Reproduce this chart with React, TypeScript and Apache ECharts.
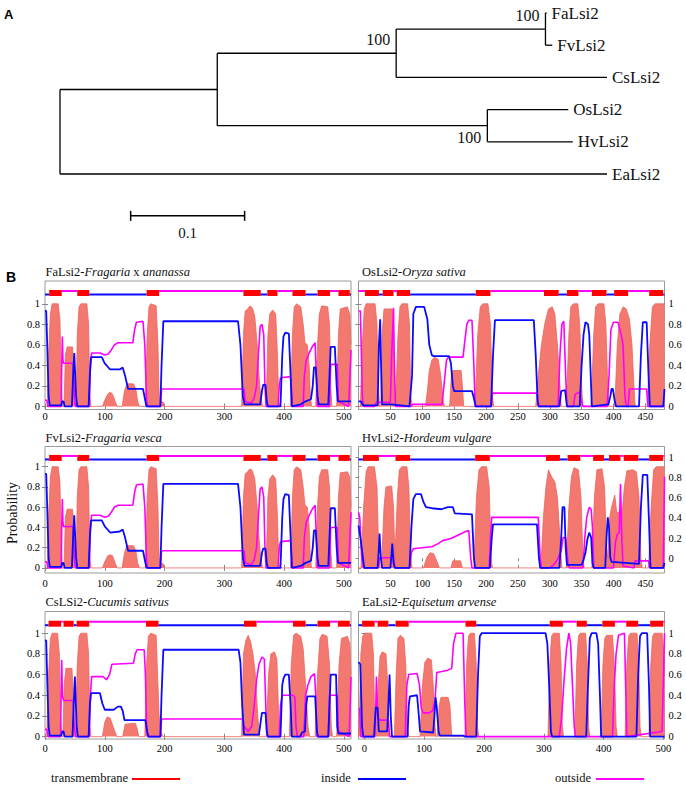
import React, { useEffect, useRef } from 'react';
import * as echarts from 'echarts';

type Pt = [number, number];
type Seg = [number, number, string];

const SERIF = 'Liberation Serif';
const SANS = 'Liberation Sans';

// ---------------- Panel A : phylogenetic tree ----------------
interface TNode { name?: string; len: number; support?: number; below?: boolean; children?: TNode[] }
const treeRoot: TNode = {
  len: 0,
  children: [
    {
      len: 0.138,
      children: [
        {
          len: 0.157, support: 100,
          children: [
            { len: 0.131, support: 100, children: [{ name: 'FaLsi2', len: 0.001 }, { name: 'FvLsi2', len: 0.006 }] },
            { name: 'CsLsi2', len: 0.185 },
          ],
        },
        { len: 0.237, support: 100, below: true, children: [{ name: 'OsLsi2', len: 0.071 }, { name: 'HvLsi2', len: 0.075 }] },
      ],
    },
    { name: 'EaLsi2', len: 0.48 },
  ],
};
const scaleBarStart = 0.062;
const scaleBarLength = 0.1;
const scaleBarRow = 6.3;
const scaleBarLabel = '0.1';

// ---------------- Panel B : topology predictions ----------------
const leftXTicks = [0, 100, 200, 300, 400, 500];
const rightXTicks = [50, 100, 150, 200, 250, 300, 350, 400, 450];
const eaXTicks = [0, 100, 200, 300, 400, 500];
const yTicks = [0, 0.2, 0.4, 0.6, 0.8, 1];

// FaLsi2
const faTm: Pt[] = [[0,0],[4,0],[6,0.5],[9,0.9],[12,1.0],[22,1.0],[25,0.85],[27,0.3],[29,0],[32,0],[34,0.5],[37,0.58],[46,0.58],[48,0.45],[50,0],[52,0],[54,0.7],[57,0.97],[60,1.0],[70,1.0],[73,0.8],[75,0.1],[77,0],[96,0],[100,0.06],[105,0.12],[109,0.14],[113,0.12],[118,0.04],[121,0],[129,0],[133,0.15],[137,0.22],[148,0.22],[152,0.17],[155,0.05],[158,0],[168,0],[171,0.7],[174,0.97],[177,1.0],[186,0.98],[189,0.6],[191,0.1],[194,0.05],[198,0.04],[200,0],[329,0],[332,0.7],[335,0.93],[339,0.95],[343,0.98],[347,0.96],[351,0.88],[355,0.6],[358,0.3],[361,0.1],[364,0],[370,0],[373,0.7],[376,0.9],[381,0.94],[386,0.9],[389,0.5],[391,0.05],[393,0],[411,0],[414,0.7],[417,0.97],[421,1.0],[428,0.97],[432,0.8],[435,0.62],[439,0.6],[442,0.4],[444,0.1],[446,0],[453,0],[456,0.6],[459,0.9],[463,0.98],[473,0.97],[476,0.8],[478,0.2],[480,0],[488,0],[491,0.7],[494,0.95],[506,0.97],[510,0.9],[512,0.6]];
const faIn: Pt[] = [[0,0.93],[2,0.93],[4,0.55],[6,0.1],[8,0.01],[27,0.01],[29,0.05],[31,0.05],[33,0],[45,0],[47,0.3],[49,0.52],[50,0.52],[52,0.1],[54,0],[73,0],[75,0.3],[77,0.48],[95,0.48],[100,0.42],[109,0.36],[125,0.36],[130,0.38],[134,0.3],[139,0.17],[164,0.17],[168,0.05],[170,0],[193,0],[195,0.4],[198,0.83],[323,0.83],[327,0.6],[331,0.1],[334,0.02],[360,0.02],[363,0.15],[365,0.21],[369,0.21],[371,0.05],[373,0],[394,0],[397,0.5],[399,0.68],[402,0.72],[408,0.71],[411,0.3],[413,0],[428,0.02],[436,0.05],[445,0.07],[448,0.2],[450,0.38],[453,0.38],[456,0.1],[458,0.02],[474,0.02],[476,0.3],[478,0.58],[485,0.58],[488,0.2],[490,0.05],[512,0.05]];
const faOut: Pt[] = [[0,0.06],[3,0.06],[5,0],[27,0],[28,0.4],[29,0.68],[30,0.45],[31,0.42],[47,0.42],[49,0.1],[51,0],[74,0],[76,0.4],[78,0.52],[92,0.52],[100,0.5],[106,0.51],[111,0.55],[116,0.6],[122,0.62],[147,0.62],[150,0.75],[153,0.82],[164,0.83],[167,0.6],[170,0.05],[172,0],[193,0],[195,0.17],[333,0.17],[335,0.05],[345,0.03],[350,0.08],[354,0.2],[357,0.5],[360,0.78],[363,0.8],[366,0.7],[368,0.2],[370,0],[390,0],[392,0.2],[394,0.28],[411,0.29],[413,0.1],[414,0],[432,0],[434,0.3],[437,0.45],[442,0.52],[447,0.58],[452,0.62],[454,0.3],[456,0],[476,0],[478,0.41],[489,0.41],[491,0.05],[508,0],[512,0.55]];
const faTopo: Seg[] = [[0,7,'i'],[7,28,'M'],[28,54,'o'],[54,74,'M'],[74,170,'i'],[170,191,'M'],[191,332,'o'],[332,361,'M'],[361,372,'i'],[372,389,'M'],[389,414,'o'],[414,436,'M'],[436,456,'i'],[456,477,'M'],[477,491,'o'],[491,510,'M'],[510,512,'i']];

// FvLsi2
const fvTm: Pt[] = [[0,0],[4,0],[6,0.5],[9,0.9],[12,1.0],[22,1.0],[25,0.85],[27,0.3],[29,0],[32,0],[34,0.5],[37,0.58],[46,0.58],[48,0.45],[50,0],[52,0],[54,0.7],[57,0.97],[60,1.0],[70,1.0],[73,0.8],[75,0.1],[77,0],[96,0],[100,0.06],[105,0.12],[109,0.13],[113,0.12],[118,0.04],[121,0],[129,0],[133,0.15],[137,0.22],[148,0.22],[152,0.17],[155,0.05],[158,0],[168,0],[171,0.7],[174,0.97],[177,1.0],[186,0.98],[189,0.6],[191,0.1],[194,0.05],[198,0.04],[200,0],[329,0],[332,0.7],[335,0.93],[339,0.95],[343,0.98],[347,0.96],[351,0.88],[355,0.6],[358,0.3],[361,0.1],[364,0],[370,0],[373,0.7],[376,0.88],[381,0.92],[386,0.88],[389,0.5],[391,0.05],[393,0],[411,0],[414,0.7],[417,0.97],[421,1.0],[428,0.97],[432,0.8],[435,0.62],[439,0.6],[442,0.4],[444,0.1],[446,0],[453,0],[456,0.6],[459,0.9],[463,0.97],[473,0.97],[476,0.8],[478,0.2],[480,0],[488,0],[491,0.7],[494,0.94],[506,0.95],[510,0.9],[512,0.6]];
const fvIn: Pt[] = [[0,0.93],[2,0.93],[4,0.55],[6,0.1],[8,0.01],[27,0.01],[29,0.05],[31,0.05],[33,0],[45,0],[47,0.3],[49,0.52],[50,0.52],[52,0.1],[54,0],[73,0],[75,0.3],[77,0.47],[95,0.47],[100,0.41],[109,0.35],[125,0.36],[130,0.38],[134,0.3],[139,0.17],[164,0.17],[168,0.05],[170,0],[193,0],[195,0.4],[198,0.83],[323,0.83],[327,0.6],[331,0.1],[334,0.02],[360,0.02],[363,0.15],[365,0.19],[369,0.19],[371,0.05],[373,0],[394,0],[397,0.5],[399,0.68],[402,0.73],[408,0.72],[411,0.3],[413,0],[428,0.02],[436,0.05],[445,0.07],[448,0.2],[450,0.37],[453,0.37],[456,0.1],[458,0.02],[474,0.02],[476,0.3],[478,0.59],[485,0.59],[488,0.2],[490,0.05],[512,0.05]];
const fvOut: Pt[] = [[0,0.06],[3,0.06],[5,0],[27,0],[28,0.4],[29,0.68],[30,0.45],[31,0.41],[47,0.41],[49,0.1],[51,0],[74,0],[76,0.4],[78,0.52],[92,0.52],[100,0.5],[106,0.51],[111,0.55],[116,0.6],[122,0.62],[147,0.62],[150,0.75],[153,0.82],[164,0.83],[167,0.6],[170,0.05],[172,0],[193,0],[195,0.17],[333,0.17],[335,0.05],[345,0.03],[350,0.08],[354,0.2],[357,0.5],[360,0.78],[363,0.8],[366,0.7],[368,0.2],[370,0],[390,0],[392,0.2],[394,0.26],[411,0.27],[413,0.1],[414,0],[432,0],[434,0.3],[437,0.45],[442,0.52],[447,0.58],[452,0.62],[454,0.3],[456,0],[476,0],[478,0.4],[489,0.4],[491,0.05],[508,0],[512,0.55]];
const fvTopo: Seg[] = [[0,7,'i'],[7,28,'M'],[28,54,'o'],[54,74,'M'],[74,170,'i'],[170,191,'M'],[191,332,'o'],[332,361,'M'],[361,372,'i'],[372,389,'M'],[389,414,'o'],[414,436,'M'],[436,456,'i'],[456,477,'M'],[477,491,'o'],[491,510,'M'],[510,512,'i']];

// CsLSi2
const csTm: Pt[] = [[0,0],[3,0],[6,0.6],[9,0.95],[12,1.0],[21,1.0],[24,0.8],[26,0.2],[28,0],[30,0],[32,0.5],[35,0.66],[45,0.66],[47,0.45],[49,0],[51,0],[54,0.7],[57,0.97],[60,1.0],[70,1.0],[73,0.8],[75,0.1],[77,0],[96,0],[100,0.14],[104,0.19],[109,0.18],[115,0.08],[120,0],[130,0],[134,0.12],[151,0.13],[154,0.08],[157,0],[167,0],[170,0.7],[173,0.97],[177,1.0],[186,0.98],[189,0.5],[191,0.2],[194,0.05],[197,0],[329,0],[332,0.8],[336,0.93],[340,0.98],[344,0.92],[348,0.8],[352,0.6],[356,0.2],[359,0],[370,0],[374,0.6],[378,0.8],[384,0.82],[388,0.75],[391,0.2],[393,0],[409,0],[412,0.7],[416,0.98],[420,1.0],[428,0.97],[432,0.85],[436,0.5],[440,0.1],[443,0],[452,0],[456,0.6],[460,0.95],[464,0.99],[472,0.97],[476,0.7],[479,0.1],[481,0],[488,0],[492,0.7],[496,0.95],[506,0.97],[510,0.9],[512,0.6]];
const csIn: Pt[] = [[0,0.93],[2,0.93],[4,0.5],[6,0.1],[8,0.01],[27,0.01],[29,0.05],[31,0.05],[33,0],[46,0],[48,0.3],[50,0.58],[51,0.58],[53,0.1],[55,0],[73,0],[75,0.3],[77,0.42],[92,0.42],[96,0.32],[100,0.26],[115,0.26],[122,0.29],[127,0.29],[130,0.25],[133,0.16],[168,0.16],[171,0.05],[173,0],[193,0],[195,0.4],[198,0.84],[324,0.84],[327,0.72],[330,0.3],[333,0.02],[358,0.02],[361,0.15],[363,0.23],[369,0.23],[371,0.05],[373,0],[394,0],[397,0.5],[399,0.56],[402,0.6],[408,0.6],[411,0.3],[413,0],[427,0],[430,0.04],[435,0.05],[437,0.3],[439,0.39],[452,0.39],[455,0.05],[457,0],[474,0],[476,0.3],[478,0.6],[487,0.6],[489,0.1],[491,0.03],[512,0.03]];
const csOut: Pt[] = [[0,0.07],[3,0.07],[5,0],[26,0],[27,0.4],[28,0.74],[29,0.4],[31,0.35],[47,0.35],[49,0.1],[51,0],[74,0],[76,0.4],[78,0.58],[97,0.58],[103,0.55],[108,0.6],[112,0.7],[148,0.71],[151,0.8],[154,0.84],[166,0.84],[168,0.6],[170,0.05],[172,0],[193,0],[195,0.17],[331,0.17],[333,0.1],[340,0.05],[346,0.1],[350,0.3],[354,0.55],[358,0.7],[363,0.77],[367,0.75],[370,0.2],[372,0],[392,0],[394,0.3],[397,0.4],[415,0.4],[418,0.38],[420,0.1],[422,0],[433,0],[436,0.4],[440,0.5],[445,0.58],[451,0.61],[453,0.4],[455,0],[474,0],[476,0.4],[489,0.4],[491,0.05],[509,0],[512,0.58]];
const csTopo: Seg[] = [[0,6,'i'],[6,27,'M'],[27,31,'o'],[31,48,'M'],[48,53,'i'],[53,74,'M'],[74,169,'o'],[169,190,'M'],[190,333,'i'],[333,354,'M'],[354,415,'o'],[415,436,'M'],[436,456,'i'],[456,477,'M'],[477,490,'o'],[490,510,'M'],[510,512,'i']];

// OsLsi2
const osTm: Pt[] = [[0,0],[3,0],[6,0.6],[9,0.95],[12,1.0],[26,1.0],[29,0.8],[31,0.2],[33,0],[35,0],[37,0.7],[40,0.95],[53,0.95],[55,0.7],[57,0.1],[58,0],[59,0],[62,0.7],[65,0.97],[68,1.0],[77,1.0],[80,0.8],[82,0.1],[84,0],[105,0],[108,0.15],[111,0.35],[115,0.45],[119,0.48],[125,0.46],[129,0.3],[133,0.05],[135,0],[143,0],[146,0.33],[148,0.35],[161,0.35],[163,0.2],[165,0],[183,0],[187,0.7],[191,0.97],[195,1.0],[203,1.0],[207,0.8],[210,0.1],[212,0],[278,0],[282,0.3],[287,0.6],[292,0.8],[298,0.95],[304,0.97],[308,0.9],[312,0.6],[316,0.2],[318,0],[326,0],[330,0.7],[333,0.97],[337,1.0],[344,1.0],[347,0.8],[350,0.2],[352,0],[365,0],[369,0.7],[372,0.97],[376,1.0],[385,1.0],[388,0.8],[391,0.2],[393,0],[402,0],[406,0.6],[410,0.9],[415,0.97],[420,0.95],[425,0.85],[429,0.6],[432,0.2],[434,0],[453,0],[457,0.6],[461,0.97],[465,1.0],[480,1.0]];
const osIn: Pt[] = [[0,0.05],[4,0.05],[7,0.01],[30,0.01],[32,0.6],[34,0.85],[35,0.5],[37,0.02],[52,0.02],[80,0],[84,0.3],[86,0.9],[90,0.97],[103,0.97],[108,0.85],[111,0.6],[115,0.5],[118,0.49],[142,0.49],[145,0.42],[148,0.2],[150,0.15],[178,0.15],[181,0.08],[184,0],[208,0],[211,0.5],[214,0.84],[275,0.84],[278,0.5],[281,0.05],[283,0],[315,0],[318,0.15],[324,0.16],[327,0],[347,0],[350,0.4],[353,0.7],[356,0.82],[360,0.8],[362,0.7],[366,0],[392,0.02],[395,0.1],[397,0.17],[399,0.17],[402,0.05],[404,0],[440,0],[443,0.5],[446,0.82],[452,0.82],[455,0.3],[457,0],[478,0],[480,0.17]];
const osOut: Pt[] = [[0,0.93],[3,0.93],[6,0.1],[8,0],[25,0],[28,0.04],[50,0.04],[52,0.5],[55,0.96],[56,0.5],[58,0],[82,0],[85,0.02],[131,0.02],[134,0.2],[138,0.45],[141,0.48],[164,0.48],[167,0.65],[170,0.8],[173,0.84],[178,0.84],[181,0.4],[183,0],[208,0],[210,0.13],[280,0.13],[282,0],[313,0],[316,0.5],[319,0.8],[322,0.83],[325,0.3],[327,0],[337,0],[340,0.12],[347,0.14],[350,0.05],[352,0],[390,0],[393,0.3],[396,0.75],[400,0.82],[407,0.82],[412,0.7],[415,0.6],[418,0.1],[420,0],[423,0],[425,0.17],[452,0.17],[454,0],[480,0]];
const osTopo: Seg[] = [[0,10,'o'],[10,32,'M'],[32,38,'i'],[38,55,'M'],[55,60,'o'],[60,81,'M'],[81,184,'i'],[184,207,'M'],[207,291,'o'],[291,314,'M'],[314,327,'i'],[327,345,'M'],[345,366,'o'],[366,389,'M'],[389,401,'i'],[401,423,'M'],[423,456,'o'],[456,478,'M'],[478,480,'i']];

// HvLsi2
const hvTm: Pt[] = [[0,0],[4,0],[8,0.6],[12,0.95],[15,1.0],[25,1.0],[29,0.8],[32,0.1],[34,0],[36,0],[40,0.6],[43,0.8],[52,0.81],[55,0.6],[57,0.1],[58,0.1],[61,0.7],[64,0.97],[68,1.0],[76,1.0],[79,0.8],[82,0.1],[84,0],[102,0],[107,0.1],[112,0.15],[118,0.14],[124,0.05],[127,0],[145,0],[148,0.07],[160,0.07],[163,0],[181,0],[185,0.7],[189,0.97],[193,1.0],[201,1.0],[205,0.8],[208,0.1],[210,0],[286,0],[290,0.5],[294,0.8],[298,0.97],[303,0.9],[308,0.85],[312,0.7],[316,0.3],[319,0],[326,0],[330,0.6],[334,0.9],[338,0.99],[345,0.97],[349,0.7],[352,0.1],[354,0],[366,0],[370,0.7],[374,0.97],[382,0.98],[386,0.8],[389,0.2],[391,0.1],[394,0.5],[397,0.6],[402,0.72],[405,0.55],[410,0.55],[413,0.5],[417,0.8],[421,0.96],[430,0.97],[436,0.95],[440,0.7],[443,0.1],[445,0],[455,0],[459,0.6],[463,0.97],[467,1.0],[480,1.0]];
const hvIn: Pt[] = [[0,0.42],[3,0.3],[6,0.15],[9,0],[30,0],[32,0.2],[33,0.34],[35,0.1],[37,0],[50,0],[52,0.15],[53,0.24],[55,0.05],[57,0],[80,0],[83,0.4],[86,0.68],[90,0.73],[98,0.73],[102,0.65],[106,0.6],[115,0.59],[130,0.58],[140,0.6],[148,0.6],[151,0.54],[178,0.53],[181,0.1],[183,0],[206,0],[209,0.3],[211,0.43],[280,0.43],[283,0.1],[285,0],[315,0],[318,0.3],[320,0.6],[323,0.6],[325,0.2],[327,0.03],[350,0.03],[353,0.08],[356,0.15],[359,0.28],[362,0.35],[365,0.3],[367,0.05],[369,0],[387,0],[389,0.3],[391,0.5],[393,0.4],[395,0.1],[397,0.06],[440,0.04],[443,0.6],[446,0.92],[453,0.92],[456,0.4],[458,0],[478,0],[480,0.05]];
const hvOut: Pt[] = [[0,0.55],[2,0.5],[5,0.1],[8,0],[31,0],[33,0.1],[55,0.1],[57,0],[80,0],[83,0.15],[86,0.19],[100,0.2],[115,0.21],[125,0.24],[132,0.27],[145,0.29],[155,0.32],[168,0.36],[173,0.37],[176,0.1],[178,0],[205,0],[207,0.3],[209,0.5],[282,0.5],[285,0.1],[287,0],[300,0],[306,0.03],[312,0.08],[318,0.17],[321,0.3],[325,0.3],[329,0.03],[331,0],[352,0],[355,0.3],[358,0.5],[362,0.6],[365,0.58],[367,0.4],[369,0],[400,0],[403,0.25],[406,0.33],[409,0.35],[411,0.83],[413,0.3],[415,0.02],[432,0],[434,0.07],[455,0.07],[457,0],[478,0],[480,0.9]];
const hvTopo: Seg[] = [[0,7,'i'],[7,32,'M'],[32,58,'o'],[58,81,'M'],[81,183,'i'],[183,206,'M'],[206,294,'o'],[294,316,'M'],[316,328,'i'],[328,348,'M'],[348,368,'o'],[368,385,'M'],[385,393,'i'],[393,411,'M'],[411,416,'o'],[416,439,'M'],[439,456,'i'],[456,478,'M'],[478,480,'o']];

// EaLsi2
const eaTm: Pt[] = [[-10,0],[-8,0.3],[-6,0.8],[-3,0.97],[0,1.0],[12,1.0],[15,0.8],[17,0.2],[19,0],[20,0],[23,0.5],[26,0.78],[30,0.82],[36,0.8],[39,0.5],[41,0.05],[43,0],[50,0],[53,0.6],[56,0.95],[60,0.98],[66,0.95],[69,0.7],[72,0.1],[74,0],[93,0],[97,0.5],[101,0.72],[106,0.76],[112,0.74],[115,0.5],[118,0.1],[120,0],[122,0],[125,0.3],[128,0.38],[140,0.38],[143,0.3],[146,0],[168,0],[171,0.7],[174,0.97],[177,1.0],[184,1.0],[187,0.7],[189,0.1],[191,0],[307,0],[310,0.7],[313,0.97],[316,1.0],[326,1.0],[329,0.7],[331,0.1],[333,0],[352,0],[355,0.7],[358,0.97],[361,1.0],[370,1.0],[373,0.7],[375,0.1],[377,0],[396,0],[399,0.7],[402,0.95],[405,0.98],[415,0.98],[418,0.7],[421,0.1],[423,0],[436,0],[439,0.7],[442,0.97],[445,1.0],[456,1.0],[459,0.7],[461,0.1],[463,0],[476,0],[479,0.7],[482,0.97],[485,1.0],[498,1.0],[501,0.8],[502,0.6]];
const eaIn: Pt[] = [[-10,0.72],[-7,0.7],[-4,0.1],[-2,0],[16,0],[18,0.2],[19,0.28],[22,0.28],[24,0.05],[38,0.05],[40,0.3],[42,0.6],[44,0.2],[46,0],[72,0],[74,0.3],[76,0.39],[88,0.4],[91,0.2],[93,0.05],[115,0.04],[117,0.2],[119,0.38],[121,0.28],[124,0.05],[126,0.01],[165,0.01],[168,0],[187,0],[190,0.6],[193,0.97],[196,1.0],[303,1.0],[306,0.9],[309,0.5],[312,0.05],[314,0],[371,0],[374,0.5],[377,0.95],[380,1.0],[388,1.0],[391,0.9],[394,0.4],[396,0],[455,0],[458,0.6],[461,0.97],[464,1.0],[473,1.0],[476,0.5],[478,0],[502,0]];
const eaOut: Pt[] = [[-10,0.27],[-8,0.27],[-6,0],[17,0],[19,0.3],[20,0.58],[22,0.2],[24,0.16],[40,0.16],[42,0],[68,0],[71,0.5],[74,0.6],[88,0.61],[92,0.5],[95,0.28],[98,0.23],[108,0.23],[114,0.25],[118,0.35],[121,0.62],[138,0.64],[146,0.66],[149,0.9],[153,1.0],[165,1.0],[168,0.3],[170,0],[326,0],[330,0.2],[334,0.55],[338,0.85],[342,1.0],[345,0.9],[348,0.5],[351,0.1],[353,0],[415,0],[418,0.5],[421,0.8],[425,0.98],[435,1.0],[437,0.5],[439,0],[498,0.05],[502,1.0]];
const eaTopo: Seg[] = [[-10,-4,'i'],[-4,17,'M'],[17,22,'o'],[22,40,'M'],[40,52,'i'],[52,74,'M'],[74,169,'o'],[169,187,'M'],[187,310,'i'],[310,332,'M'],[332,355,'o'],[355,372,'M'],[372,398,'i'],[398,419,'M'],[419,438,'o'],[438,458,'M'],[458,478,'i'],[478,500,'M'],[500,502,'o']];

const legendItems = [
  { label: 'transmembrane', color: '#ff0000' },
  { label: 'inside', color: '#0000ff' },
  { label: 'outside', color: '#ff00ff' },
];

interface Panel {
  code: string; species: string; tm: Pt[]; inside: Pt[]; outside: Pt[]; topo: Seg[];
  xMin: number; xMax: number; xTicks: number[]; rightShift: number;
}
const panels: Panel[] = [
  { code: 'FaLsi2-', species: '{i|Fragaria}{n| x }{i|ananassa}', tm: faTm, inside: faIn, outside: faOut, topo: faTopo, xMin: 0, xMax: 512, xTicks: leftXTicks, rightShift: 0 },
  { code: 'OsLsi2-', species: '{i|Oryza sativa}', tm: osTm, inside: osIn, outside: osOut, topo: osTopo, xMin: 0, xMax: 480, xTicks: rightXTicks, rightShift: 0 },
  { code: 'FvLsi2-', species: '{i|Fragaria vesca}', tm: fvTm, inside: fvIn, outside: fvOut, topo: fvTopo, xMin: 0, xMax: 512, xTicks: leftXTicks, rightShift: 0 },
  { code: 'HvLsi2-', species: '{i|Hordeum vulgare}', tm: hvTm, inside: hvIn, outside: hvOut, topo: hvTopo, xMin: 0, xMax: 480, xTicks: rightXTicks, rightShift: 0.095 },
  { code: 'CsLSi2-', species: '{i|Cucumis sativus}', tm: csTm, inside: csIn, outside: csOut, topo: csTopo, xMin: 0, xMax: 512, xTicks: leftXTicks, rightShift: 0 },
  { code: 'EaLsi2-', species: '{i|Equisetum arvense}', tm: eaTm, inside: eaIn, outside: eaOut, topo: eaTopo, xMin: -10, xMax: 502, xTicks: eaXTicks, rightShift: 0 },
];

const rows = [
  { top: 281, height: 128.5, yMin: -0.03, yMax: 1.222, topoLevel: 1.105, titleY: 272, labelMargin: 1.5 },
  { top: 446.5, height: 126.5, yMin: -0.05, yMax: 1.2, topoLevel: 1.087, titleY: 437.5, labelMargin: 4.5 },
  { top: 611.5, height: 127.5, yMin: -0.023, yMax: 1.21, topoLevel: 1.092, titleY: 601.5, labelMargin: 3.5 },
];

function layoutTree(root: TNode) {
  const lines: number[][] = [];
  const texts: { x: number; y: number; text: string; kind: string }[] = [];
  let leafIdx = 0;
  const walk = (node: TNode, x0: number): number => {
    const x = x0 + node.len;
    let y: number;
    if (!node.children) {
      y = leafIdx++;
      texts.push({ x, y, text: node.name || '', kind: 'leaf' });
    } else {
      const ys = node.children.map((c) => walk(c, x));
      y = (ys[0] + ys[ys.length - 1]) / 2;
      lines.push([x, ys[0], x, ys[ys.length - 1]]);
      if (node.support) texts.push({ x, y, text: String(node.support), kind: node.below ? 'supB' : 'supT' });
    }
    if (node.len > 0) lines.push([x0, y, x, y]);
    return y;
  };
  walk(root, 0);
  return { lines, texts };
}

function buildOption() {
  const tree = layoutTree(treeRoot);
  const grids: any[] = [{ left: 60, top: 13, width: 547, height: 225.4 }];
  const xAxes: any[] = [{ type: 'value', gridIndex: 0, min: 0, max: 0.48, show: false }];
  const yAxes: any[] = [{ type: 'value', gridIndex: 0, min: 0, max: 7, inverse: true, show: false }];
  const series: any[] = [];
  const titles: any[] = [];

  series.push({
    type: 'custom', coordinateSystem: 'cartesian2d', xAxisIndex: 0, yAxisIndex: 0, silent: true,
    data: tree.lines, encode: { x: [0, 2], y: [1, 3] },
    renderItem: (params: any, api: any) => {
      const l = tree.lines[params.dataIndex];
      const a = api.coord([l[0], l[1]]);
      const b = api.coord([l[2], l[3]]);
      return { type: 'line', shape: { x1: a[0], y1: a[1], x2: b[0], y2: b[1] }, style: { stroke: '#000', lineWidth: 1.3 } };
    },
  });
  series.push({
    type: 'custom', coordinateSystem: 'cartesian2d', xAxisIndex: 0, yAxisIndex: 0, silent: true,
    data: tree.texts.map((t) => [t.x, t.y]),
    renderItem: (params: any, api: any) => {
      const t = tree.texts[params.dataIndex];
      const p = api.coord([t.x, t.y]);
      let x = p[0] + 5, y = p[1], align = 'left', size = 17;
      if (t.kind === 'supT') { x = p[0] - 6; y = p[1] - 14; align = 'right'; size = 16; }
      if (t.kind === 'supB') { x = p[0] - 6; y = p[1] + 11.5; align = 'right'; size = 16; }
      return { type: 'text', x, y, style: { text: t.text, fill: '#111', fontSize: size, fontFamily: SERIF, align, verticalAlign: 'middle', textAlign: align, textVerticalAlign: 'middle' } };
    },
  });
  series.push({
    type: 'custom', coordinateSystem: 'cartesian2d', xAxisIndex: 0, yAxisIndex: 0, silent: true,
    data: [[scaleBarStart, scaleBarRow]],
    renderItem: (params: any, api: any) => {
      const a = api.coord([scaleBarStart, scaleBarRow]);
      const b = api.coord([scaleBarStart + scaleBarLength, scaleBarRow]);
      const st = { stroke: '#000', lineWidth: 1.5 };
      return {
        type: 'group', children: [
          { type: 'line', shape: { x1: a[0], y1: a[1], x2: b[0], y2: b[1] }, style: st },
          { type: 'line', shape: { x1: a[0], y1: a[1] - 5, x2: a[0], y2: a[1] + 5 }, style: st },
          { type: 'line', shape: { x1: b[0], y1: b[1] - 5, x2: b[0], y2: b[1] + 5 }, style: st },
          { type: 'text', x: (a[0] + b[0]) / 2, y: a[1] + 17, style: { text: scaleBarLabel, fill: '#111', fontSize: 15, fontFamily: SERIF, align: 'center', verticalAlign: 'middle', textAlign: 'center', textVerticalAlign: 'middle' } },
        ],
      };
    },
  });

  const tickBase = { show: true, inside: true, length: 3, lineStyle: { color: '#888', width: 1 } };
  panels.forEach((p, i) => {
    const row = rows[Math.floor(i / 2)];
    const isRight = i % 2 === 1;
    const gi = i + 1;
    const left = isRight ? 358.5 : 45;
    grids.push({ left, top: row.top, width: 306, height: row.height, show: true, borderColor: '#9a9a9a', borderWidth: 1, backgroundColor: 'transparent' });
    titles.push({
      text: '{n|' + p.code + '}' + p.species,
      left: isRight ? 362 : 45.5, top: row.titleY - 7.5, padding: 0,
      textStyle: {
        fontSize: 12.5, fontWeight: 'normal', color: '#111', fontFamily: SERIF,
        rich: {
          n: { fontSize: 12.5, fontFamily: SERIF, color: '#111', lineHeight: 15 },
          i: { fontSize: 12.5, fontFamily: SERIF, color: '#111', fontStyle: 'italic', lineHeight: 15 },
        },
      },
    });
    const lab = { fontSize: 10.5, color: '#000', fontFamily: SERIF };
    xAxes.push({ type: 'value', gridIndex: gi, position: 'bottom', min: p.xMin, max: p.xMax, axisLine: { show: false }, splitLine: { show: false }, axisTick: { ...tickBase, customValues: p.xTicks }, axisLabel: { ...lab, customValues: p.xTicks, margin: row.labelMargin } });
    xAxes.push({ type: 'value', gridIndex: gi, position: 'top', min: p.xMin, max: p.xMax, axisLine: { show: false }, splitLine: { show: false }, axisTick: { ...tickBase, customValues: p.xTicks }, axisLabel: { show: false } });
    yAxes.push({ type: 'value', gridIndex: gi, position: 'left', min: row.yMin, max: row.yMax, axisLine: { show: false }, splitLine: { show: false }, axisTick: { ...tickBase, customValues: yTicks }, axisLabel: { ...lab, show: !isRight, customValues: yTicks, margin: 5 } });
    yAxes.push({ type: 'value', gridIndex: gi, position: 'right', min: row.yMin - p.rightShift, max: row.yMax - p.rightShift, axisLine: { show: false }, splitLine: { show: false }, axisTick: { ...tickBase, customValues: yTicks }, axisLabel: { ...lab, show: isRight, customValues: yTicks, margin: 4 } });
    const ax = 1 + 2 * i;
    series.push({ type: 'line', xAxisIndex: ax, yAxisIndex: ax, data: p.tm, symbol: 'none', silent: true, z: 1, lineStyle: { width: 0.8, color: '#ec665c' }, areaStyle: { color: '#f37870', opacity: 1 } });
    series.push({ type: 'line', xAxisIndex: ax, yAxisIndex: ax, data: p.outside, symbol: 'none', silent: true, z: 3, lineStyle: { width: 1.6, color: '#ff00ff' } });
    series.push({ type: 'line', xAxisIndex: ax, yAxisIndex: ax, data: p.inside, symbol: 'none', silent: true, z: 4, lineStyle: { width: 1.8, color: '#0a0aff' } });
    const level = row.topoLevel;
    series.push({
      type: 'custom', coordinateSystem: 'cartesian2d', xAxisIndex: ax, yAxisIndex: ax, silent: true, z: 5,
      data: p.topo.map((s) => [s[0], level]),
      renderItem: (params: any, api: any) => {
        const s = p.topo[params.dataIndex];
        const a = api.coord([s[0], level]);
        const b = api.coord([s[1], level]);
        if (s[2] === 'M') return { type: 'rect', shape: { x: a[0], y: a[1] - 3, width: b[0] - a[0], height: 6 }, style: { fill: '#ff0000' } };
        if (s[2] === 'i') return { type: 'line', shape: { x1: a[0], y1: a[1] + 1.5, x2: b[0], y2: b[1] + 1.5 }, style: { stroke: '#0a0aff', lineWidth: 2 } };
        return { type: 'line', shape: { x1: a[0], y1: a[1] - 2, x2: b[0], y2: b[1] - 2 }, style: { stroke: '#ff00ff', lineWidth: 2 } };
      },
    });
  });

  const legendPos = [{ tx: 51, lx: 132 }, { tx: 321, lx: 358 }, { tx: 555, lx: 596 }];
  const graphic: any[] = [
    { type: 'text', left: 4, top: 8, style: { text: 'A', fontSize: 13, fontWeight: 'bold', fontFamily: SANS, fill: '#000' } },
    { type: 'text', left: 6, top: 270, style: { text: 'B', fontSize: 14, fontWeight: 'bold', fontFamily: SANS, fill: '#000' } },
    { type: 'text', x: 12, y: 513, rotation: Math.PI / 2, style: { text: 'Probability', fontSize: 14, fontFamily: SERIF, fill: '#111', align: 'center', verticalAlign: 'middle', textAlign: 'center', textVerticalAlign: 'middle' } },
  ];
  legendItems.forEach((it, k) => {
    const pos = legendPos[k];
    graphic.push({ type: 'text', x: pos.tx, y: 778, style: { text: it.label, fontSize: 12.5, fontFamily: SERIF, fill: '#111', align: 'left', verticalAlign: 'middle', textAlign: 'left', textVerticalAlign: 'middle' } });
    graphic.push({ type: 'line', shape: { x1: pos.lx, y1: 779, x2: pos.lx + 48, y2: 779 }, style: { stroke: it.color, lineWidth: 2 } });
  });

  return {
    animation: false,
    backgroundColor: '#ffffff',
    textStyle: { fontFamily: SERIF },
    title: titles,
    grid: grids,
    xAxis: xAxes,
    yAxis: yAxes,
    series,
    graphic,
  };
}

export default function App() {
  const ref = useRef<HTMLDivElement>(null);
  useEffect(() => {
    if (!ref.current) return;
    const chart = echarts.init(ref.current, undefined, { renderer: 'svg' });
    chart.setOption(buildOption() as any);
    return () => chart.dispose();
  }, []);
  return <div ref={ref} style={{ position: 'absolute', left: 0, top: 0, width: 686, height: 787, background: '#fff' }} />;
}
